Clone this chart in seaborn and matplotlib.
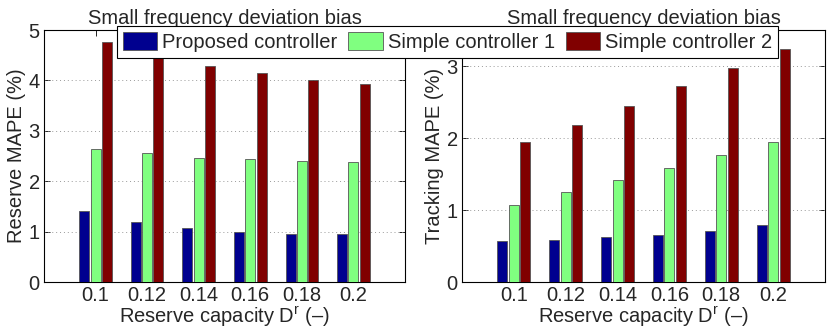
import matplotlib
matplotlib.use("Agg")
import matplotlib.pyplot as plt
import seaborn as sns
import pandas as pd

capacities = ["0.1", "0.12", "0.14", "0.16", "0.18", "0.2"]
controllers = ["Proposed controller", "Simple controller 1", "Simple controller 2"]
colors = ["#00008F", "#80FF80", "#800000"]

reserve_proposed = [1.40, 1.20, 1.07, 0.99, 0.95, 0.96]
reserve_simple1 = [2.63, 2.56, 2.47, 2.44, 2.41, 2.38]
reserve_simple2 = [4.76, 4.46, 4.28, 4.15, 4.01, 3.93]

tracking_proposed = [0.57, 0.59, 0.62, 0.65, 0.71, 0.79]
tracking_simple1 = [1.07, 1.25, 1.41, 1.59, 1.77, 1.95]
tracking_simple2 = [1.94, 2.18, 2.45, 2.72, 2.97, 3.24]

title = "Small frequency deviation bias"
xlabel = "Reserve capacity D$^\\mathregular{r}$ (\u2013)"


def long_df(series):
    rows = []
    for name, vals in zip(controllers, series):
        for c, v in zip(capacities, vals):
            rows.append({"cap": c, "ctrl": name, "val": v})
    return pd.DataFrame(rows)


df_res = long_df([reserve_proposed, reserve_simple1, reserve_simple2])
df_trk = long_df([tracking_proposed, tracking_simple1, tracking_simple2])

sns.set_theme(style="white")
plt.rcParams["font.family"] = ["Liberation Sans", "DejaVu Sans"]
plt.rcParams["mathtext.fontset"] = "custom"
plt.rcParams["mathtext.rm"] = "Liberation Sans"
plt.rcParams["mathtext.default"] = "regular"

fig = plt.figure(figsize=(8.3, 3.33), dpi=100)
ax1 = fig.add_axes([44 / 830, 51 / 333, 361 / 830, 252 / 333])
ax2 = fig.add_axes([462 / 830, 51 / 333, 363 / 830, 252 / 333])

FS = 14.5
for ax, df, ylim, yticks, ylab in [
    (ax1, df_res, (0, 5), [0, 1, 2, 3, 4, 5], "Reserve MAPE (%)"),
    (ax2, df_trk, (0, 3.5), [0, 1, 2, 3], "Tracking MAPE (%)"),
]:
    sns.barplot(data=df, x="cap", y="val", hue="ctrl", order=capacities,
                hue_order=controllers, palette=colors, width=0.66, gap=0.12,
                edgecolor="#555555", linewidth=0.6, ax=ax, legend=False,
                saturation=1, zorder=3)
    ax.set_xlim(-1, 6)
    ax.set_ylim(*ylim)
    ax.set_yticks(yticks)
    for y in yticks:
        if 0 < y < ylim[1]:
            ax.axhline(y, color="#999999", linestyle=(0, (1, 3)), linewidth=0.7, zorder=1)
    ax.set_title(title, fontsize=FS, pad=4)
    ax.set_xlabel(xlabel, fontsize=FS, labelpad=0)
    ax.set_ylabel(ylab, fontsize=FS, labelpad=2)
    ax.tick_params(axis="both", labelsize=FS, direction="in", length=4, width=0.6,
                   color="black", pad=3, right=True, top=True, left=True, bottom=True)
    for s in ax.spines.values():
        s.set_visible(True)
        s.set_color("black")
        s.set_linewidth(0.8)

handles = [plt.Rectangle((0, 0), 1, 1, facecolor=c, edgecolor="#555555", linewidth=0.6)
           for c in colors]
leg = fig.legend(handles, controllers, loc="center", bbox_to_anchor=(447.5 / 830, 1 - 42 / 333),
                 ncol=3, fontsize=FS, frameon=True, fancybox=False, framealpha=1,
                 edgecolor="black", handlelength=1.7, handleheight=0.95,
                 handletextpad=0.25, columnspacing=0.55, borderpad=0.3, borderaxespad=0)
leg.get_frame().set_linewidth(0.8)
leg.set_zorder(10)

fig.savefig("out.png", dpi=100)
